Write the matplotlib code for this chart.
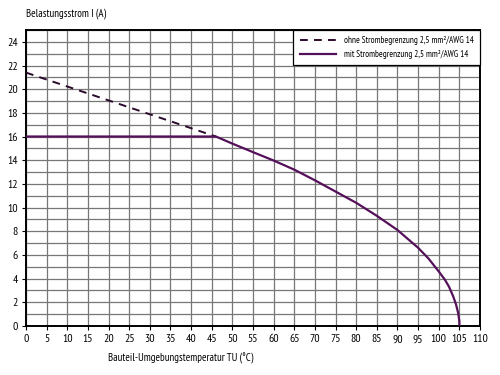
import matplotlib

matplotlib.use("Agg")

import matplotlib.pyplot as plt
import numpy as np

plt.rcParams["font.family"] = ["PT Sans Narrow", "DejaVu Sans"]

# ohne Strombegrenzung (dashed)
temp_unlimited = [0, 46]
current_unlimited = [21.4, 16.0]

# mit Strombegrenzung (solid)
temp_limited = [0, 46, 50, 55, 60, 65, 70, 75, 80, 85, 90, 95, 97.5, 100,
                101.5, 102.5, 103.5, 104.2, 104.7, 105, 105]
current_limited = [16.0, 16.0, 15.4, 14.68, 13.97, 13.2, 12.3, 11.35, 10.4, 9.3, 8.1, 6.6, 5.7, 4.6,
                   3.9, 3.3, 2.5, 1.8, 1.1, 0.4, 0.0]

label_unlimited = "ohne Strombegrenzung 2,5 mm²/AWG 14"
label_limited = "mit Strombegrenzung 2,5 mm²/AWG 14"

fig = plt.figure(figsize=(5, 3.75), dpi=100)
ax = fig.add_axes([0.052, 0.131, 0.908, 0.789])

ax.plot(temp_unlimited, current_unlimited, color="#2a0a2c", linewidth=1.4,
        linestyle=(0, (4, 3.2)), label=label_unlimited, zorder=3)
ax.plot(temp_limited, current_limited, color="#55105a", linewidth=1.6,
        solid_joinstyle="round", label=label_limited, zorder=4)

ax.set_xlim(0, 110)
ax.set_ylim(0, 25)
ax.set_xticks(np.arange(0, 111, 5))
ax.set_yticks(np.arange(0, 25, 2))
ax.set_yticks(np.arange(0, 26, 1), minor=True)
ax.grid(True, which="major", axis="x", color="#777777", linewidth=0.9)
ax.grid(True, which="both", axis="y", color="#777777", linewidth=0.9)
ax.set_axisbelow(True)
ax.tick_params(which="major", labelsize=8.5, length=3, width=0.8, pad=3)
ax.tick_params(which="minor", length=0)
for spine in ax.spines.values():
    spine.set_linewidth(1.4)
    spine.set_color("black")

fig.text(0.052, 0.965, "Belastungsstrom I (A)", fontsize=7.8, ha="left", va="center")
fig.text(0.216, 0.045, "Bauteil-Umgebungstemperatur TU (°C)", fontsize=7.8, ha="left", va="center")

leg = ax.legend(loc="upper right", fontsize=6.6, frameon=True, fancybox=False,
                edgecolor="black", framealpha=1, borderaxespad=0,
                handlelength=4.0, handletextpad=0.8, borderpad=0.7, labelspacing=0.5)
leg.get_frame().set_linewidth(0.9)

fig.savefig("out.png", dpi=100)
